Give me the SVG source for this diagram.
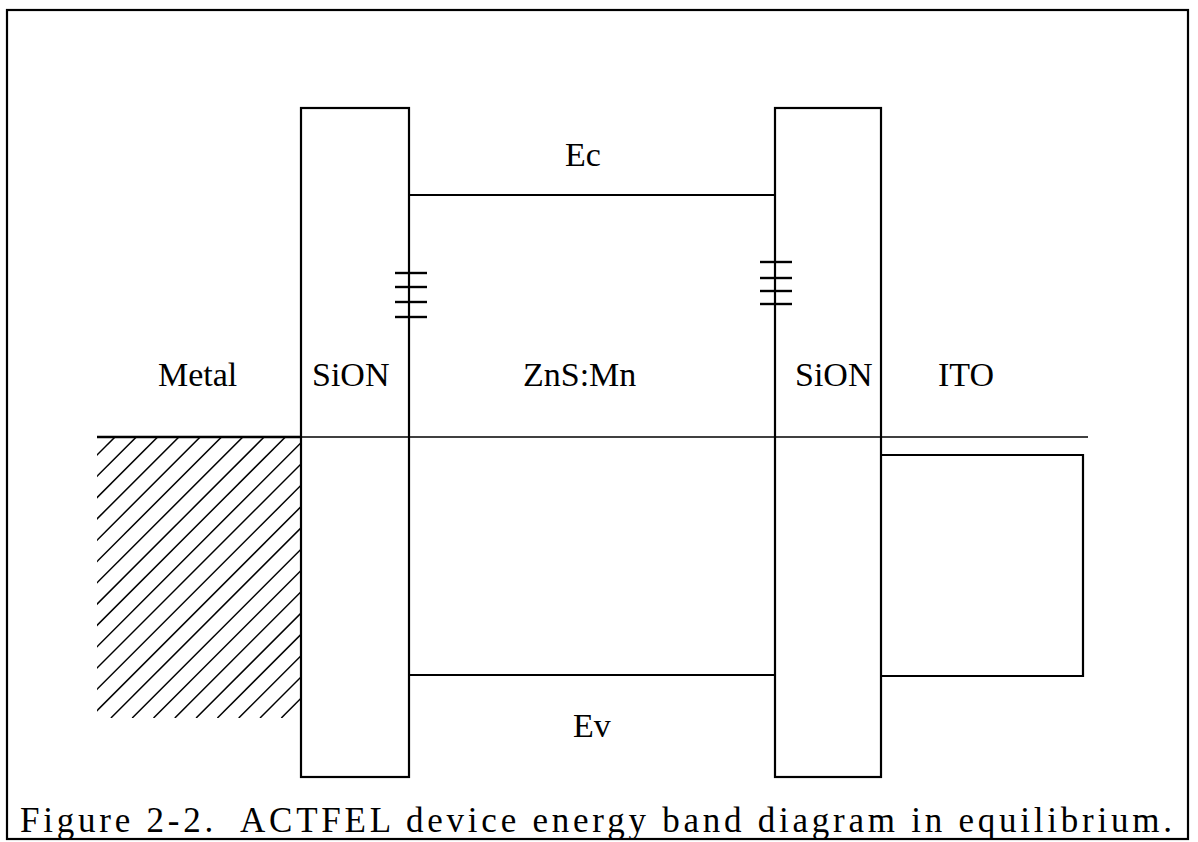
<svg xmlns="http://www.w3.org/2000/svg" width="1198" height="842" viewBox="0 0 1198 842">
<style>
.lbl{font-family:"Liberation Serif","Times New Roman",serif;font-size:34px;fill:#000}
.cap{font-family:"Liberation Serif","Times New Roman",serif;font-size:35px;fill:#000}
.box{fill:none;stroke:#000;stroke-width:2.2}
.band{fill:none;stroke:#000;stroke-width:2}
.thin{fill:none;stroke:#000;stroke-width:1.4}
.hatch line{stroke:#000;stroke-width:1.5}
.tick{stroke:#000;stroke-width:2.4}
</style>
<defs>
<clipPath id="hclip"><rect x="97" y="438" width="204" height="280"/></clipPath>
</defs>
<rect width="1198" height="842" fill="#fff"/>
<g id="frame"><rect x="7" y="10" width="1181" height="829" class="box" stroke-width="2.6"/></g>

<g id="metal">
<g class="hatch" clip-path="url(#hclip)">
<line x1="115" y1="437" x2="-166" y2="718"/>
<line x1="136.3" y1="437" x2="-144.7" y2="718"/>
<line x1="157.6" y1="437" x2="-123.4" y2="718"/>
<line x1="178.9" y1="437" x2="-102.1" y2="718"/>
<line x1="200.2" y1="437" x2="-80.8" y2="718"/>
<line x1="221.5" y1="437" x2="-59.5" y2="718"/>
<line x1="242.8" y1="437" x2="-38.2" y2="718"/>
<line x1="264.1" y1="437" x2="-16.9" y2="718"/>
<line x1="285.4" y1="437" x2="4.4" y2="718"/>
<line x1="306.7" y1="437" x2="25.7" y2="718"/>
<line x1="328" y1="437" x2="47" y2="718"/>
<line x1="349.3" y1="437" x2="68.3" y2="718"/>
<line x1="370.6" y1="437" x2="89.6" y2="718"/>
<line x1="391.9" y1="437" x2="110.9" y2="718"/>
<line x1="413.2" y1="437" x2="132.2" y2="718"/>
<line x1="434.5" y1="437" x2="153.5" y2="718"/>
<line x1="455.8" y1="437" x2="174.8" y2="718"/>
<line x1="477.1" y1="437" x2="196.1" y2="718"/>
<line x1="498.4" y1="437" x2="217.4" y2="718"/>
<line x1="519.7" y1="437" x2="238.7" y2="718"/>
<line x1="541" y1="437" x2="260" y2="718"/>
<line x1="562.3" y1="437" x2="281.3" y2="718"/>
</g>
<line x1="97" y1="437" x2="301" y2="437" stroke="#000" stroke-width="2.4"/>
<text class="lbl" x="158" y="386">Metal</text>
</g>

<g id="sion-left">
<rect x="301" y="108" width="108" height="669" class="box"/>
<text class="lbl" x="312" y="386">SiON</text>
</g>

<g id="zns">
<text class="lbl" x="523" y="386">ZnS:Mn</text>
<text class="lbl" x="565" y="166">Ec</text>
<text class="lbl" x="573" y="737">Ev</text>
</g>

<g id="sion-right">
<rect x="775" y="108" width="106" height="669" class="box"/>
<text class="lbl" x="795" y="386">SiON</text>
</g>

<g id="ito">
<path d="M882 455 H1083 V676 H882" class="box"/>
<text class="lbl" x="938" y="386">ITO</text>
</g>

<g id="connectors">
<line x1="409" y1="195" x2="775" y2="195" class="band"/>
<line x1="409" y1="675" x2="775" y2="675" class="band"/>
<line x1="301" y1="437" x2="1088" y2="437" class="thin"/>
<g id="traps-left">
<line x1="395" y1="273" x2="427" y2="273" class="tick"/>
<line x1="395" y1="287" x2="427" y2="287" class="tick"/>
<line x1="395" y1="302" x2="427" y2="302" class="tick"/>
<line x1="395" y1="317" x2="427" y2="317" class="tick"/>
</g>
<g id="traps-right">
<line x1="760" y1="262" x2="792" y2="262" class="tick"/>
<line x1="760" y1="278" x2="792" y2="278" class="tick"/>
<line x1="760" y1="291" x2="792" y2="291" class="tick"/>
<line x1="760" y1="304" x2="792" y2="304" class="tick"/>
</g>
</g>

<g id="caption">
<text class="cap" x="20" y="832" textLength="1152" lengthAdjust="spacing" xml:space="preserve">Figure 2-2.  ACTFEL device energy band diagram in equilibrium.</text>
</g>
</svg>
